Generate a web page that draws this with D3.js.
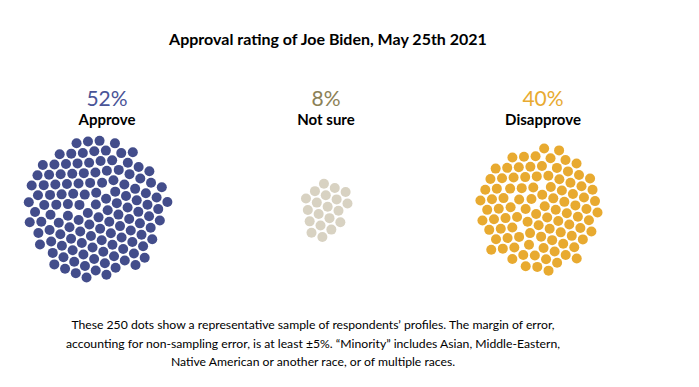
<!DOCTYPE html>
<html>
<head>
<meta charset="utf-8">
<script src="https://cdn.jsdelivr.net/npm/d3@7"></script>
<style>
body { margin: 0; background: #fff; }
text { font-family: Lato, "Open Sans", sans-serif; }
</style>
</head>
<body>
<svg width="699" height="387"></svg>
<script>

var groups = ["Approve", "Not sure", "Disapprove"];
var shares = [52, 8, 40];
var dotCounts = [130, 20, 100];
var dotColors = ["#434d8b", "#d8d2c2", "#e8aa30"];
var labelColors = ["#4a5497", "#8c8156", "#e8aa30"];

var title = "Approval rating of Joe Biden, May 25th 2021";
var notes = [
  "These 250 dots show a representative sample of respondents\u2019 profiles. The margin of error,",
  "accounting for non-sampling error, is at least \u00b15%. \u201cMinority\u201d includes Asian, Middle-Eastern,",
  "Native American or another race, or of multiple races."
];

var svg = d3.select("svg");

// where each group's dots and labels sit
var dotX = d3.scaleOrdinal().domain(groups).range([97, 330, 547]);
var labelX = d3.scaleOrdinal().domain(groups).range([107, 326, 543]);

var cy = 212,
    r = 5;

svg.append("text")
    .attr("x", 328)
    .attr("y", 45)
    .attr("text-anchor", "middle")
    .style("font-size", "16px")
    .style("font-weight", "bold")
    .text(title);

groups.forEach(function(g, i) {
  var cx = dotX(g);

  svg.append("text")
      .attr("x", labelX(g))
      .attr("y", 106)
      .attr("text-anchor", "middle")
      .style("font-size", "21px")
      .style("fill", labelColors[i])
      .text(shares[i] + "%");

  svg.append("text")
      .attr("x", labelX(g))
      .attr("y", 125)
      .attr("text-anchor", "middle")
      .style("font-size", "15px")
      .style("font-weight", "bold")
      .text(g);

  var nodes = d3.range(dotCounts[i]).map(function(k) { return {id: k}; });

  var sim = d3.forceSimulation(nodes)
      .force("x", d3.forceX(cx).strength(0.06))
      .force("y", d3.forceY(cy).strength(0.06))
      .force("collide", d3.forceCollide(r + 0.8).iterations(3))
      .stop();

  for (var t = 0; t < 300; ++t) sim.tick();

  svg.append("g")
    .selectAll("circle")
    .data(nodes)
    .enter().append("circle")
      .attr("cx", function(d) { return d.x; })
      .attr("cy", function(d) { return d.y; })
      .attr("r", r)
      .style("fill", dotColors[i]);
});

svg.append("g")
  .selectAll("text")
  .data(notes)
  .enter().append("text")
    .attr("x", 313)
    .attr("y", function(d, i) { return 329 + i * 18.5; })
    .attr("text-anchor", "middle")
    .style("font-size", "12.2px")
    .text(function(d) { return d; });

</script>
</body>
</html>
